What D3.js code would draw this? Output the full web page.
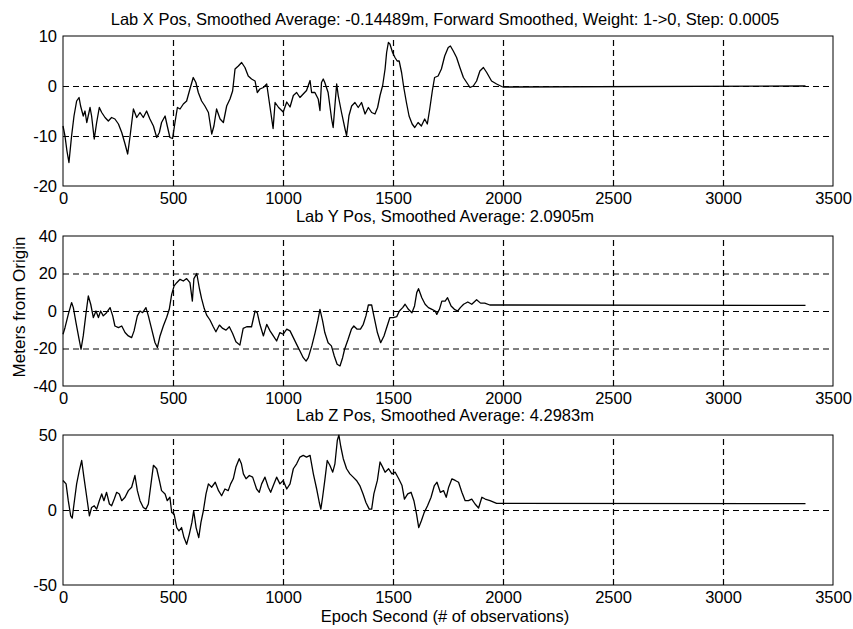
<!DOCTYPE html>
<html lang="en">
<head>
<meta charset="utf-8">
<title>Lab position, smoothed</title>
<script src="https://d3js.org/d3.v7.min.js"></script>
<style>
  body { margin: 0; background: white; }
  text { font-family: "Liberation Sans", Arial, sans-serif; fill: black; }
  .grid line { stroke: black; stroke-width: 1.2; stroke-dasharray: 6 4; }
  .grid path { display: none; }
  .lbl path, .lbl line { display: none; }
</style>
</head>
<body>
<div id="chart"></div>
<script>

// epoch ticks shared by all three panels
var epochTicks = [0, 500, 1000, 1500, 2000, 2500, 3000, 3500]

// Lab X position (m)
var xEpoch = [0,9,18,27,39,50,62,73,80,92,100,108,123,130,142,153,165,176,191,206,221,236,252,267,282,294,305,320,335,350,365,380,395,411,426,438,448,464,474,486,498,509,520,532,547,562,577,592,604,615,630,645,661,676,686,698,714,729,744,759,771,782,797,812,827,842,857,873,883,895,911,926,938,955,964,980,1001,1017,1032,1047,1062,1077,1092,1107,1123,1130,1145,1160,1168,1175,1183,1190,1205,1221,1228,1236,1244,1251,1266,1282,1289,1300,1312,1327,1342,1357,1373,1388,1403,1418,1430,1441,1453,1464,1471,1479,1486,1498,1509,1519,1528,1539,1549,1561,1573,1587,1599,1614,1629,1644,1656,1667,1679,1689,1705,1720,1735,1751,1761,1774,1789,1804,1820,1835,1850,1865,1880,1895,1911,1926,1948,1971,1994,2000,3375]
var xValue = [-8,-10,-13,-15.3,-10,-6,-3,-2.3,-4,-6,-5,-7.3,-4.3,-6,-10.6,-7.3,-4.3,-5.3,-6.3,-7,-6.3,-6.6,-7.6,-9.3,-11.6,-13.6,-10,-4.6,-6.3,-5.3,-6.3,-5,-6.6,-8,-10.3,-9.3,-7.3,-6,-8,-10.3,-10.5,-7.3,-4.3,-4.6,-3.6,-3,-0.6,1.7,0.7,-1.3,-3,-4,-5.3,-9.6,-8,-4.6,-6.6,-7.3,-4,-2.6,-1,3.4,4,4.7,3.7,2,1.4,1,-1.3,-0.6,-0.3,0.4,-3.3,-8.5,-3.3,-4.3,-5.2,-3.2,-4.2,-1.9,-1.3,-2.3,-1.6,-0.9,1.1,-1.3,-1.3,-2.6,-4.9,0.7,1.4,0.7,-1.3,-6.6,-8.3,-3.9,0.4,-1.9,-5.3,-8.6,-9.9,-5.9,-4,-3.3,-4.3,-3.3,-5.6,-4.3,-5.3,-5.6,-4.3,-1.9,0.1,3.4,6.7,8.7,8.4,6.7,5.7,5,5,2.7,-0.3,-3.3,-6,-7.6,-8.3,-7.3,-8,-6.6,-7.6,-4.6,-0.9,1.7,2,3.4,6,7.7,8,7,5.7,3.7,1.7,0.7,-0.3,0,1,3,3.7,2.7,1,0.4,-0.1,-0.2,0]

// Lab Y position (m)
var yEpoch = [0,9,24,39,47,59,73,82,92,105,115,126,138,150,161,171,183,198,214,226,236,252,267,282,297,312,323,338,350,362,377,388,403,418,429,441,456,471,483,494,505,517,532,547,562,577,588,595,608,620,630,642,653,668,683,695,711,726,741,756,771,786,804,819,835,857,873,883,895,911,926,941,956,971,986,1001,1017,1032,1047,1062,1077,1092,1105,1115,1131,1146,1158,1168,1180,1190,1205,1220,1233,1246,1259,1271,1280,1296,1311,1322,1337,1352,1365,1377,1388,1403,1413,1429,1444,1459,1471,1486,1501,1517,1529,1544,1555,1570,1586,1598,1608,1616,1631,1646,1661,1677,1692,1699,1711,1722,1737,1748,1764,1779,1794,1806,1821,1840,1858,1880,1898,1917,1940,1986,3375]
var yValue = [-12.4,-8.9,-1.8,4.5,1.8,-6.2,-15,-20.4,-13.3,-0.9,8,3.6,-3.5,0,-3.5,0,-2.6,-0.9,1.8,-2.6,-8,-8.9,-8,-11.5,-13.3,-14.2,-10.6,-2.6,0,-0.9,1.8,-2.6,-9.7,-16.8,-19.5,-13.3,-8,-3.5,0.9,8.9,13.4,15.1,16.9,16,17.3,15.1,5.3,17.3,20,12,6.6,1.3,-2.2,-4.8,-8.4,-11.1,-7.5,-9.3,-10.2,-8.4,-12,-16.4,-18.2,-9.3,-8.4,-8.4,0,-0.9,-7.1,-13.3,-7.1,-10.6,-13.3,-16,-11.5,-12.4,-9.7,-10.6,-14.2,-17.8,-21.3,-24.9,-26.7,-24.9,-18.6,-11.5,-5.3,0.9,-5.3,-11.5,-16.9,-18.6,-24,-28.4,-29.3,-24.9,-20.4,-15.1,-9.7,-8,-9.7,-9.7,-7.1,-2.6,3.2,3.2,-2.6,-11.5,-16.9,-13.3,-8.9,-3.5,-3.5,-3,0,1.8,3.6,0.9,-0.9,2.7,9.8,11.9,7.1,3.6,1.8,0.9,0,-1.8,0.9,5.3,5.3,7.1,2.7,0.9,0,1.8,3.6,4.8,3.6,6,4.2,4.2,3.2,3.2,3]

// Lab Z position (m)
var zEpoch = [0,14,24,35,42,50,62,74,85,95,108,120,130,142,153,165,176,186,198,211,221,233,244,256,267,282,297,312,327,338,350,365,377,388,398,411,426,438,448,464,474,486,494,505,517,527,539,550,562,574,586,594,605,617,627,638,650,661,676,692,707,721,736,751,762,774,786,801,811,820,832,847,862,880,892,903,918,933,944,956,971,986,1001,1017,1032,1047,1062,1077,1092,1107,1123,1138,1153,1165,1172,1180,1190,1201,1213,1226,1236,1247,1254,1263,1274,1289,1304,1319,1334,1349,1364,1377,1392,1403,1413,1429,1441,1453,1464,1480,1495,1510,1526,1541,1552,1567,1582,1595,1607,1617,1629,1642,1657,1673,1688,1700,1715,1730,1742,1753,1768,1783,1798,1813,1828,1843,1858,1873,1889,1904,1919,1941,1971,2001,3375]
var zValue = [19.7,17.4,6.2,-3.9,-5.4,4,17.4,26.3,33,21.9,8.5,-3.9,1.7,2.8,0.6,6.2,10.7,6.2,11.8,4,2.8,7.3,11.8,10.7,6.2,8.5,12.9,15.2,23,12.9,6.2,1.7,0.6,4,15.2,29.8,27.5,19.7,12.9,10.7,6.2,8.5,-1.6,-2.7,-11.7,-13.9,-11.7,-18.4,-22.9,-16.2,-8.3,-0.5,-11.7,-18.4,-8.3,-0.5,10.7,17.4,15.2,18.5,12.9,9.5,14,12.9,17.4,20.8,28.6,34.2,30.8,24.1,20.8,23,21.9,14,11.8,17.4,21.9,15.2,11.8,16.3,21.9,17.4,19.7,14,17.4,27.5,30.8,35.3,36.4,35.3,36.4,24.1,14,5,0.6,8.5,19.7,33,29.8,25.2,30.8,46.5,49.9,42,34.2,27.5,24.1,21.9,19.7,16.3,10.7,5,0.6,0.6,10.7,19.7,32,28.6,25.2,27.5,24.1,25.2,20.8,16.3,7.3,10.7,11.8,6.2,-2.7,-11.7,-7.2,-1.6,2.8,8.5,16.3,18.5,11.8,12.9,8.5,15.2,20.8,19.7,18.5,11.8,6.2,6.2,7.3,4,1.3,8.5,7.3,6.2,4.4,4.4,4.3]

var titles = [
  "Lab X Pos, Smoothed Average: -0.14489m, Forward Smoothed, Weight: 1->0, Step: 0.0005",
  "Lab Y Pos, Smoothed Average: 2.0905m",
  "Lab Z Pos, Smoothed Average: 4.2983m"
]
var yDomains = [[-20, 10], [-40, 40], [-50, 50]]
var yTicks = [[-20, -10, 0, 10], [-40, -20, 0, 20, 40], [-50, 0, 50]]

var width = 853
var height = 629
var left = 63, right = 833
var tops = [36, 236, 435]
var plotH = 150
var fs = "16.5px"

// plain hyphen minus, no thousands comma (matlab style)
var plain = function(d){ return String(d) }

var svg = d3.select("#chart")
  .append("svg")
    .attr("width", width)
    .attr("height", height)

svg.append("rect").attr("width", width).attr("height", height).attr("fill", "white")

var x = d3.scaleLinear().domain([0, 3500]).range([left, right])

var panels = [
  {ep: xEpoch, val: xValue},
  {ep: yEpoch, val: yValue},
  {ep: zEpoch, val: zValue}
]

panels.forEach(function(p, i) {
  var top = tops[i]
  var y = d3.scaleLinear().domain(yDomains[i]).range([top + plotH, top])
  var g = svg.append("g")

  // dashed grid
  g.append("g")
    .attr("class", "grid")
    .attr("transform", "translate(0," + (top + plotH) + ")")
    .call(d3.axisBottom(x).tickValues(epochTicks.slice(1, -1)).tickSize(-plotH).tickFormat(""))
  g.append("g")
    .attr("class", "grid")
    .attr("transform", "translate(" + left + ",0)")
    .call(d3.axisLeft(y).tickValues(yTicks[i].slice(1, -1)).tickSize(-(right - left)).tickFormat(""))

  // box
  g.append("rect")
    .attr("x", left).attr("y", top)
    .attr("width", right - left).attr("height", plotH)
    .attr("fill", "none").attr("stroke", "black").attr("stroke-width", 1)

  // tick labels
  g.append("g")
    .attr("class", "lbl")
    .attr("transform", "translate(0," + (top + plotH) + ")")
    .call(d3.axisBottom(x).tickValues(epochTicks).tickFormat(plain).tickSize(0).tickPadding(6))
    .selectAll("text").style("font-size", fs)
  g.append("g")
    .attr("class", "lbl")
    .attr("transform", "translate(" + left + ",0)")
    .call(d3.axisLeft(y).tickValues(yTicks[i]).tickFormat(plain).tickSize(0).tickPadding(6))
    .selectAll("text").style("font-size", fs)

  // the series
  var pts = d3.zip(p.ep, p.val)
  g.append("path")
    .datum(pts)
    .attr("fill", "none")
    .attr("stroke", "black")
    .attr("stroke-width", 1.3)
    .attr("stroke-linejoin", "round")
    .attr("d", d3.line().x(function(d){ return x(d[0]) }).y(function(d){ return y(d[1]) }))

  // title
  g.append("text")
    .attr("x", (left + right) / 2 - 3)
    .attr("y", top - (i == 0 ? 11 : 14))
    .attr("text-anchor", "middle")
    .style("font-size", fs)
    .text(titles[i])
})

svg.append("text")
  .attr("transform", "translate(25,307) rotate(-90)")
  .attr("text-anchor", "middle")
  .style("font-size", "17px")
  .text("Meters from Origin")

svg.append("text")
  .attr("x", 445)
  .attr("y", 622)
  .attr("text-anchor", "middle")
  .style("font-size", fs)
  .text("Epoch Second (# of observations)")

</script>
</body>
</html>
